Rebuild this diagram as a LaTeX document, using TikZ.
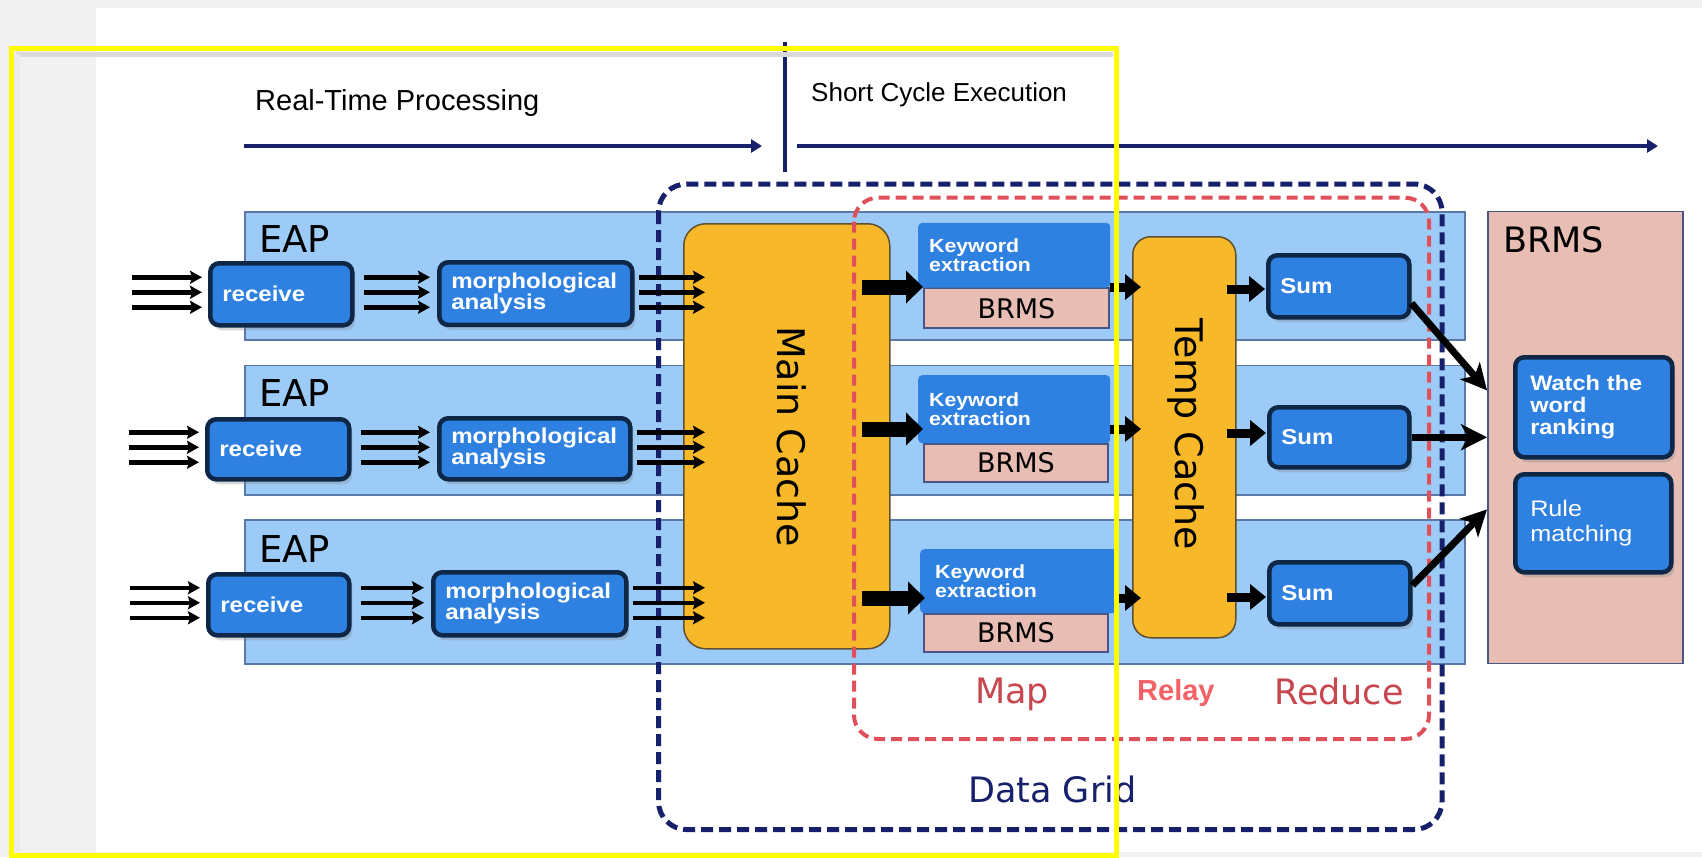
\documentclass[tikz,border=0pt]{standalone}
\usepackage{fontspec}
\setmainfont{Liberation Sans}
\newfontfamily\boxfont{Liberation Sans}[FakeStretch=1.12]
\newfontfamily\vfont{DejaVu Sans}
\usetikzlibrary{arrows.meta,shadows,calc}
\definecolor{bggray}{HTML}{F1F1F1}
\definecolor{boxblue}{HTML}{2F81E1}
\definecolor{boxedge}{HTML}{0E2747}
\definecolor{bandblue}{HTML}{9DCBF8}
\definecolor{bandedge}{HTML}{5B79A8}
\definecolor{cacheorange}{HTML}{F7B82A}
\definecolor{cacheedge}{HTML}{5E5030}
\definecolor{pinkfill}{HTML}{E7BDB4}
\definecolor{pinkedge}{HTML}{4A5585}
\definecolor{navy}{HTML}{17206B}
\definecolor{redash}{HTML}{E0505A}
\definecolor{mapred}{HTML}{C8464E}
\definecolor{relayred}{HTML}{F46166}
\definecolor{hiyellow}{HTML}{FFFF00}
\newcommand\fsz[2]{\fontsize{#1}{#2}\selectfont}
\begin{document}
\begin{tikzpicture}[x=1pt,y=-1pt,
  procbox/.style={draw=boxedge, line width=4.5pt, fill=boxblue, rounded corners=9pt,
    text=white, align=left, inner xsep=12pt, inner ysep=0pt, anchor=north west,
    font=\boxfont\bfseries\fsz{21.5}{21.3},
    drop shadow={shadow xshift=3pt, shadow yshift=-5pt, opacity=0.3}},
  eapband/.style={draw=bandedge, line width=1.8pt, fill=bandblue, anchor=north west, inner sep=0pt},
  cachebox/.style={draw=cacheedge, line width=1.5pt, fill=cacheorange, rounded corners=22pt, anchor=north west, inner sep=0pt},
  pinkbox/.style={draw=pinkedge, line width=1.8pt, fill=pinkfill, anchor=north west, inner sep=0pt},
  kwbox/.style={fill=boxblue, rounded corners=4pt, text=white, align=left, anchor=north west,
    inner xsep=11pt, inner ysep=0pt, font=\boxfont\bfseries\fsz{19}{19.5}},
  lbl/.style={anchor=base west, inner sep=0pt},
  tri/.style={line width=4.5pt, -{Stealth[length=12pt,width=13pt,inset=2pt]}},
  bigarrow/.style={line width=15pt, -{Triangle[length=17pt,width=32pt]}},
  midarrow/.style={line width=9pt, -{Triangle[length=16pt,width=25pt]}},
  sumarrow/.style={line width=7pt, -{Stealth[length=26pt,width=26pt,inset=7pt]}},
  toparrow/.style={draw=navy, line width=4pt, -{Triangle[length=11pt,width=13pt]}}
]
\useasboundingbox (0,0) rectangle (1702,857);
\fill[bggray] (0,0) rectangle (1702,857);
\fill[white] (96,8) rectangle (1702,852);

% header
\coordinate (tl) at (244,146);
\coordinate (tm) at (762,146);
\coordinate (tr1) at (797,146);
\coordinate (tr2) at (1658,146);
\coordinate (vt) at (785,42);
\coordinate (vb) at (785,172);
\draw[toparrow] (tl) -- (tm);
\draw[toparrow] (tr1) -- (tr2);
\draw[navy, line width=3.5pt] (vt) -- (vb);
\node[lbl, font=\fsz{29}{29}] (rtp) at (255,110.7) {Real-Time Processing};
\node[lbl, font=\fsz{26}{26}] (sce) at (811,101.7) {Short Cycle Execution};

% EAP bands
\node[eapband, minimum width=1220pt, minimum height=128.6pt] (E1) at (244,210.7) {};
\node[eapband, minimum width=1220pt, minimum height=129.5pt] (E2) at (244,364.5) {};
\node[eapband, minimum width=1220pt, minimum height=143.4pt] (E3) at (244,519.3) {};
\node[lbl, font=\vfont\fsz{37}{37}] (L1) at (259,252) {EAP};
\node[lbl, font=\vfont\fsz{37}{37}] (L2) at (259,406.7) {EAP};
\node[lbl, font=\vfont\fsz{37}{37}] (L3) at (259,562.7) {EAP};

% right BRMS
\node[pinkbox, minimum width=195pt, minimum height=452pt] (BR) at (1487,210.5) {};
\node[lbl, font=\vfont\fsz{35}{35}] (BRl) at (1503,252.7) {BRMS};

% caches
\node[cachebox, minimum width=206pt, minimum height=425pt] (MC) at (683,223) {};
\node[rotate=-90, anchor=base, inner sep=0pt, font=\vfont\fsz{38}{38}] (MCt) at (777,436.5) {Main Cache};
\node[cachebox, rounded corners=18pt, minimum width=103pt, minimum height=401pt] (TC) at (1132,236) {};
\node[rotate=-90, anchor=base, inner sep=0pt, font=\vfont\fsz{38}{38}] (TCt) at (1175,434) {Temp Cache};

% dashed regions
\draw[navy, line width=5pt, dash pattern=on 12pt off 6pt, rounded corners=28pt] (658.5,184) rectangle (1442,829.5);
\draw[redash, line width=4pt, dash pattern=on 11pt off 6pt, rounded corners=24pt] (854,197.7) rectangle (1429,739);

% process boxes
\node[procbox, minimum width=142pt, minimum height=62pt, text width=118pt] (R1) at (208,261) {receive};
\node[procbox, minimum width=142pt, minimum height=60pt, text width=118pt] (R2) at (205,417) {receive};
\node[procbox, minimum width=141pt, minimum height=61pt, text width=117pt] (R3) at (206,572) {receive};
\node[procbox, minimum width=193pt, minimum height=62.7pt, text width=169pt] (M1) at (437,260) {morphological\\analysis};
\node[procbox, minimum width=191pt, minimum height=61pt, text width=167pt] (M2) at (437,416) {morphological\\analysis};
\node[procbox, minimum width=193pt, minimum height=63pt, text width=169pt] (M3) at (431,570) {morphological\\analysis};

% map boxes
\node[pinkbox, minimum width=185pt, minimum height=40pt, font=\vfont\fsz{27}{27}] (BS1) at (923,287.3) {BRMS};
\node[pinkbox, minimum width=184pt, minimum height=38pt, font=\vfont\fsz{27}{27}] (BS2) at (923,443) {BRMS};
\node[pinkbox, minimum width=184pt, minimum height=38pt, font=\vfont\fsz{27}{27}] (BS3) at (923,613) {BRMS};
\node[kwbox, minimum width=192pt, minimum height=64.6pt, text width=170pt] (KW1) at (918,222.7) {Keyword\\extraction};
\node[kwbox, minimum width=192pt, minimum height=68pt, text width=170pt] (KW2) at (918,375) {Keyword\\extraction};
\node[kwbox, inner xsep=15pt, minimum width=197pt, minimum height=64pt, text width=167pt] (KW3) at (920,549) {Keyword\\extraction};

% reduce boxes
\node[procbox, minimum width=141pt, minimum height=62pt, text width=117pt] (S1) at (1266,253) {Sum};
\node[procbox, minimum width=140pt, minimum height=60pt, text width=116pt] (S2) at (1267,405) {Sum};
\node[procbox, minimum width=141pt, minimum height=62pt, text width=117pt] (S3) at (1267,560) {Sum};
\node[procbox, inner xsep=15pt, minimum width=157pt, minimum height=100pt, text width=127pt, font=\boxfont\bfseries\fsz{21}{22}] (WR) at (1513,355) {Watch the\\word\\ranking};
\node[procbox, inner xsep=15pt, minimum width=156pt, minimum height=98pt, text width=126pt, font=\boxfont\fsz{22.5}{25}] (RM) at (1513,472) {Rule\\matching};

% triple arrows
\foreach \i in {1,2,3}{
  \foreach \d in {-17,-2,13}{
    \draw[tri] ($(R\i.west)+(-76,\d)$) -- ($(R\i.west)+(-6,\d)$);
    \draw[tri] ($(R\i.east)+(9,\d)$) -- ($(M\i.west |- R\i.east)+(-7,\d)$);
    \draw[tri] ($(M\i.east |- R\i.east)+(4,\d)$) -- ($(MC.west |- R\i.east)+(22,\d)$);
  }
}

% map / relay / reduce arrows
\coordinate (ay1) at (0,287);
\coordinate (ay2) at (0,429);
\coordinate (ay3) at (0,598);
\coordinate (by1) at (0,289);
\coordinate (by2) at (0,433);
\coordinate (by3) at (0,597);
\foreach \i in {1,2,3}{
  \draw[bigarrow] ($(MC.east |- ay\i)+(-29,0)$) -- ($(KW\i.west |- ay\i)+(5,0)$);
  \draw[midarrow] (KW\i.east |- ay\i) -- ($(TC.west |- ay\i)+(9,0)$);
  \draw[midarrow] ($(TC.east |- by\i)+(-10,0)$) -- ($(S\i.west |- by\i)+(-1,0)$);
}
\draw[sumarrow] ($(S1.east)+(0,17)$) -- ($(BR.west)+(0,-47)$);
\draw[sumarrow] (S2.east) -- (BR.west |- S2.east);
\draw[sumarrow] ($(S3.east)+(0,-8)$) -- ($(BR.west)+(0,72)$);

% labels
\node[lbl, font=\vfont\fsz{35}{35}, text=mapred] (mapl) at (975,703.3) {Map};
\node[lbl, font=\bfseries\fsz{29}{29}, text=relayred] (relayl) at (1137,700) {Relay};
\node[lbl, font=\vfont\fsz{35}{35}, text=mapred] (redl) at (1274,704) {Reduce};
\node[lbl, font=\vfont\fsz{35}{35}, text=navy] (dgl) at (968,802.7) {Data Grid};

% highlight frame
\draw[black!15, line width=5pt] (16,54) -- (1113,54);
\draw[black!8, line width=6pt] (17,54) -- (17,852);
\draw[hiyellow, line width=5pt] (11,48) rectangle (1116.5,855);
\end{tikzpicture}
\end{document}
